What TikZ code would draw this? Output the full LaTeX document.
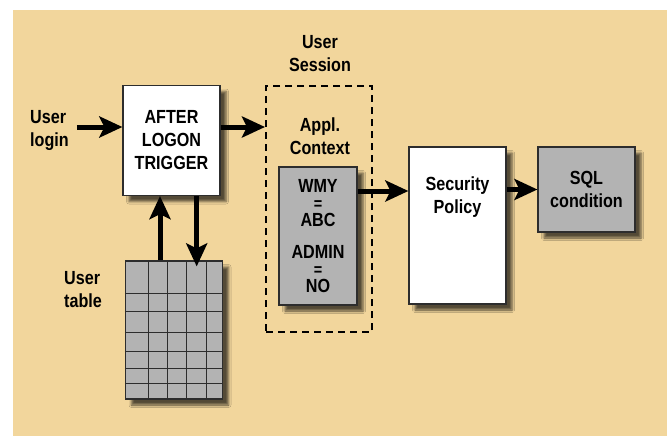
\documentclass[tikz,border=0pt]{standalone}
\usepackage{fontspec}
\setmainfont{Liberation Sans}[FakeStretch=0.85]
\usetikzlibrary{arrows.meta,shadows.blur,positioning}

\definecolor{sand}{RGB}{242,214,156}
\definecolor{cellgray}{RGB}{179,179,179}
\definecolor{rimgray}{RGB}{45,45,45}
\definecolor{shadegray}{RGB}{150,150,150}

\newcommand\eqsign{{\fontsize{17}{17}\selectfont=}}

\tikzset{
  txt/.style={inner sep=0pt, align=center,
              font=\fontsize{19}{23}\selectfont\bfseries},
  box/.style={txt, draw=rimgray, line width=1.2pt, minimum width=97pt,
              blur shadow={shadow xshift=6pt, shadow yshift=-6pt,
                           shadow blur radius=2.5pt, shadow opacity=65,
                           fill=shadegray}},
  session box/.style={draw=black, line width=2pt, dash pattern=on 7pt off 5pt,
                      minimum width=106pt, minimum height=246pt},
  flow/.style={->, line width=5pt},
  grid line/.style={draw=rimgray, line width=1pt}
}

\begin{document}
\begin{tikzpicture}[x=1pt,y=-1pt,>={Stealth[length=23pt,width=21pt,inset=5pt]}]
  \useasboundingbox (0,0) rectangle (667,436);
  \fill[sand] (13,10) rectangle (667,436);

  \path   (171.5,140.5) node (trigger) [box, fill=white, minimum height=110pt]
                             {AFTER\\LOGON\\TRIGGER}
         +(  2.5,189.5) node (table)   [box, fill=cellgray, minimum height=138pt] {}
          (319,209)     node (session) [session box] {}
         +( -1, 27)     node (ctx)     [box, fill=cellgray, minimum width=78pt,
                                        minimum height=138pt,
                                        font=\fontsize{19}{17}\selectfont\bfseries]
                             {WMY\\\eqsign\\ABC\\[15pt]ADMIN\\\eqsign\\NO}
          (457.5,225.5) node (policy)  [box, fill=white, minimum height=157pt] {}
         +(129,-36)     node (sql)     [box, fill=cellgray, minimum height=85pt]
                             {SQL\\condition};

  % grid of the user table
  \foreach \dx in {23.5,42.2,61.8,81.2}
    \draw[grid line] ([xshift=\dx pt]table.north west) -- ([xshift=\dx pt]table.south west);
  \foreach \dy in {33,51.3,71.7,90.7,108.3,122.7}
    \draw[grid line] ([yshift=-\dy pt]table.north west) -- ([yshift=-\dy pt]table.north east);

  \node (login)    [txt, anchor=west, align=left] at (30,130)  {User\\login};
  \node (usertab)  [txt, anchor=west, align=left] at (64,290)  {User\\table};
  \node (usersess) [txt] at (320,53.5) {User\\Session};
  \node (appl)     [txt] at (320,136)  {Appl.\\Context};
  \node (polname)  [txt, below=30pt of policy.north] {Security\\Policy};

  \path ([yshift=13.5pt]trigger.west -| login.east)
                 edge[flow, shorten <=8pt] ([yshift=13.5pt]trigger.west)
        ([yshift=13.5pt]trigger.east)
                 edge[flow] ([yshift=13.5pt]trigger.east -| session.west)
        ([yshift=45pt]ctx.east)
                 edge[flow] ([yshift=45pt]ctx.east -| policy.west)
        (sql.west -| policy.east)
                 edge[flow] (sql.west)
        ([xshift=-14pt]table.north)
                 edge[flow] ([xshift=-14pt]table.north |- trigger.south)
        ([xshift=22.7pt]table.north |- trigger.south)
                 edge[flow, shorten >=-6pt] ([xshift=22.7pt]table.north);
\end{tikzpicture}
\end{document}
